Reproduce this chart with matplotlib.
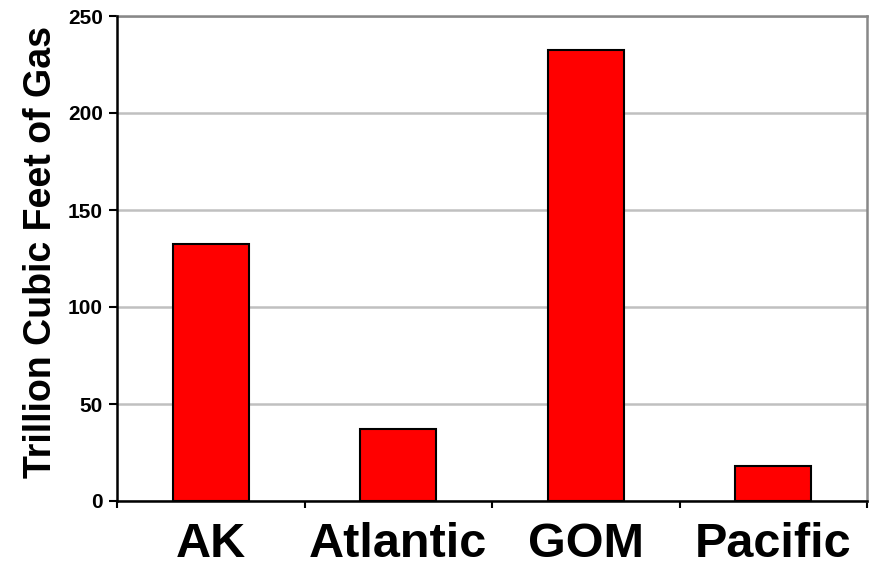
import numpy as np
import matplotlib
matplotlib.use("Agg")
import matplotlib.pyplot as plt
from matplotlib.ticker import FixedLocator

# data
regions = ["AK", "Atlantic", "GOM", "Pacific"]
gas_tcf = [132.5, 37, 232.5, 18]
y_ticks = [0, 50, 100, 150, 200, 250]

plt.rcParams['font.family'] = ['Liberation Sans', 'DejaVu Sans']
plt.rcParams['font.weight'] = 'bold'

fig = plt.figure(figsize=(8.79, 5.67), dpi=100)
ax = fig.add_axes([117/879, 1 - 501/567, 750/879, 485/567])

x = np.arange(len(regions))
ax.bar(x, gas_tcf, width=0.405, color='#ff0000', edgecolor='black', linewidth=1.5, zorder=3)

ax.set_xlim(-0.5, len(regions) - 0.5)
ax.set_ylim(0, 250)
ax.set_yticks(y_ticks)
ax.set_yticklabels([str(t) for t in y_ticks], fontsize=15, fontweight='bold')

# category labels at centres, tick marks at category boundaries
ax.set_xticks(x)
ax.set_xticklabels(regions, fontsize=35, fontweight='bold')
ax.xaxis.set_minor_locator(FixedLocator(np.arange(-0.5, len(regions), 1.0)))
ax.tick_params(axis='x', which='major', length=0, pad=15)
ax.tick_params(axis='x', which='minor', length=5, width=1.5, color='black', direction='out')
ax.tick_params(axis='y', which='major', length=6, width=1.5, color='black', pad=4)

ax.yaxis.grid(True, color='#c0c0c0', linewidth=1.8, zorder=0)
ax.set_axisbelow(True)

for side in ['left', 'bottom']:
    ax.spines[side].set_color('black')
    ax.spines[side].set_linewidth(1.8)
    ax.spines[side].set_zorder(4)
for side in ['top', 'right']:
    ax.spines[side].set_color('#888888')
    ax.spines[side].set_linewidth(1.8)

ax.set_ylabel("Trillion Cubic Feet of Gas", fontsize=27, fontweight='bold')
ax.yaxis.set_label_coords(-0.077, 0.513)

fig.savefig("out.png", dpi=100)
